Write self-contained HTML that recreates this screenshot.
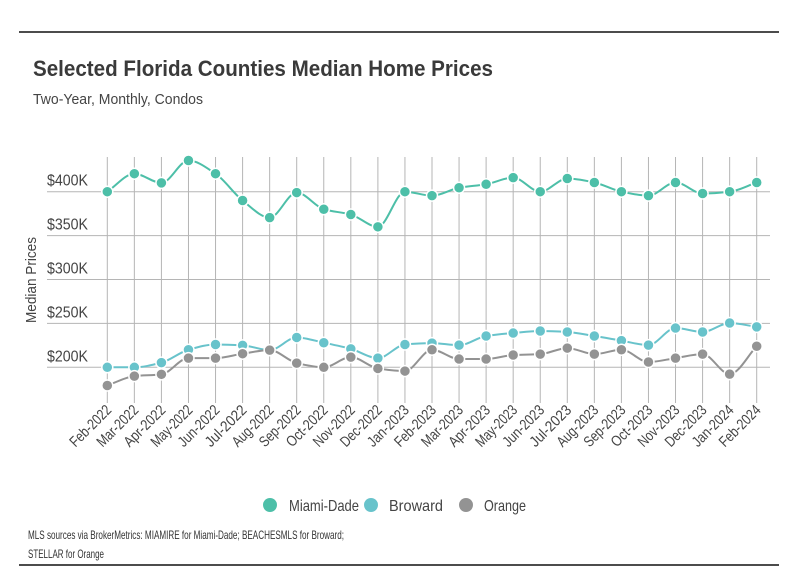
<!DOCTYPE html>
<html><head><meta charset="utf-8"><style>
body{margin:0;background:#fff;}
svg{display:block;font-family:"Liberation Sans Narrow","Liberation Sans",sans-serif;}
</style></head><body>
<svg id="chart" width="798" height="575">
<line x1="19" y1="32" x2="779" y2="32" stroke="#111" stroke-width="1.5"/>
<text x="33" y="76" font-size="22" font-weight="bold" fill="#3a3a3a" textLength="460" lengthAdjust="spacingAndGlyphs">Selected Florida Counties Median Home Prices</text>
<text x="33" y="104" font-size="15" fill="#444" textLength="170" lengthAdjust="spacingAndGlyphs">Two-Year, Monthly, Condos</text>
<text transform="translate(36,280) rotate(-90)" text-anchor="middle" font-size="15" fill="#444" textLength="86" lengthAdjust="spacingAndGlyphs">Median Prices</text>
<g id="grid"></g><g id="series"></g><g id="xlabels"></g>
<g>
<g><circle cx="270" cy="505" r="7" fill="#4dbfa8"/><text x="289" y="511" font-size="16" fill="#444" textLength="70" lengthAdjust="spacingAndGlyphs">Miami-Dade</text></g>
<g><circle cx="371" cy="505" r="7" fill="#68c3cb"/><text x="389" y="511" font-size="16" fill="#444" textLength="54" lengthAdjust="spacingAndGlyphs">Broward</text></g>
<g><circle cx="466" cy="505" r="7" fill="#939393"/><text x="484" y="511" font-size="16" fill="#444" textLength="42" lengthAdjust="spacingAndGlyphs">Orange</text></g>
</g>
<text x="28" y="539" font-size="12" fill="#333" textLength="316" lengthAdjust="spacingAndGlyphs">MLS sources via BrokerMetrics: MIAMIRE for Miami-Dade; BEACHESMLS for Broward;</text>
<text x="28" y="558" font-size="12" fill="#333" textLength="76" lengthAdjust="spacingAndGlyphs">STELLAR for Orange</text>
<line x1="19" y1="565" x2="779" y2="565" stroke="#111" stroke-width="1.5"/>
</svg>
<script>
const categories=["Feb-2022","Mar-2022","Apr-2022","May-2022","Jun-2022","Jul-2022","Aug-2022","Sep-2022","Oct-2022","Nov-2022","Dec-2022","Jan-2023","Feb-2023","Mar-2023","Apr-2023","May-2023","Jun-2023","Jul-2023","Aug-2023","Sep-2023","Oct-2023","Nov-2023","Dec-2023","Jan-2024","Feb-2024"];
const miamiDade=[400,420.5,410,435.5,420.5,390,370.5,399,380,374,360,400,395.5,404.5,408.5,416,400,415,410.5,400,395.5,410.5,398,400,410.5];
const broward=[200,200,205.3,220,226,225,219.6,234,228,221,210.5,226,227.6,225.3,235.6,239,241.3,240.2,235.6,230.4,225.3,244.7,240.2,250.5,246];
const orange=[179.3,190,192,210.5,210.5,215.5,219.6,204.8,200,211.6,198.7,195.7,220,209.4,209.4,214,215,221.9,215,220,206,210.5,215,192.2,224];
const yTicks=[200,250,300,350,400];
const yTickLabels=["$200K","$250K","$300K","$350K","$400K"];
const NS="http://www.w3.org/2000/svg";
const x=i=>107.3+i*(756.7-107.3)/(categories.length-1);
const y=v=>367.3-(v-200)*(367.3-191.7)/200;
function mk(t,a,p){const e=document.createElementNS(NS,t);for(const k in a)e.setAttribute(k,a[k]);p.appendChild(e);return e;}
const grid=document.getElementById('grid');
yTicks.forEach((t,i)=>{
 const l=mk('line',{x1:47,x2:770,y1:y(t),y2:y(t),stroke:'#b5b5b5','stroke-width':1},grid);
 
 
 const tx=mk('text',{x:47,y:y(t)-6,'font-size':16,fill:'#444',textLength:41,lengthAdjust:'spacingAndGlyphs'},grid);
 tx.textContent=yTickLabels[i];
 
 
});
const xl=document.getElementById('xlabels');
categories.forEach((c,i)=>{
 const l=mk('line',{x1:x(i),x2:x(i),y1:157,y2:403,stroke:'#b5b5b5','stroke-width':1},grid);
 
 
 const t=mk('text',{transform:`translate(${x(i)+5},${411}) rotate(-45)`,'text-anchor':'end','font-size':15,fill:'#444',textLength:52,lengthAdjust:'spacingAndGlyphs'},xl);
 t.textContent=c;
 
 
});
function path(pts){
 const n=pts.length,d=[],m=[];
 for(let i=0;i<n-1;i++)d.push((pts[i+1][1]-pts[i][1])/(pts[i+1][0]-pts[i][0]));
 for(let i=0;i<n;i++){
  if(i==0)m.push(d[0]);else if(i==n-1)m.push(d[n-2]);
  else m.push(d[i-1]*d[i]<=0?0:(2*d[i-1]*d[i])/(d[i-1]+d[i]));
 }
 let s=`M${pts[0][0]},${pts[0][1]}`;
 for(let i=0;i<n-1;i++){const h=(pts[i+1][0]-pts[i][0])/3;
  s+=`C${pts[i][0]+h},${pts[i][1]+m[i]*h} ${pts[i+1][0]-h},${pts[i+1][1]-m[i+1]*h} ${pts[i+1][0]},${pts[i+1][1]}`;}
 return s;
}
const sg=document.getElementById('series');
[[miamiDade,'#4dbfa8','miami-dade'],[broward,'#68c3cb','broward'],[orange,'#939393','orange']].forEach(([vals,col,name])=>{
 const g=mk('g',{},sg);
 
 
 const pts=vals.map((v,i)=>[x(i),y(v)]);
 const p=mk('path',{d:path(pts),fill:'none',stroke:col,'stroke-width':2},g);
 
 
 pts.forEach(q=>{
  const c=mk('circle',{cx:q[0],cy:q[1],r:5.5,fill:col,stroke:'#fff','stroke-width':1.5},g);
  
  
 });
});
</script>
</body></html>
